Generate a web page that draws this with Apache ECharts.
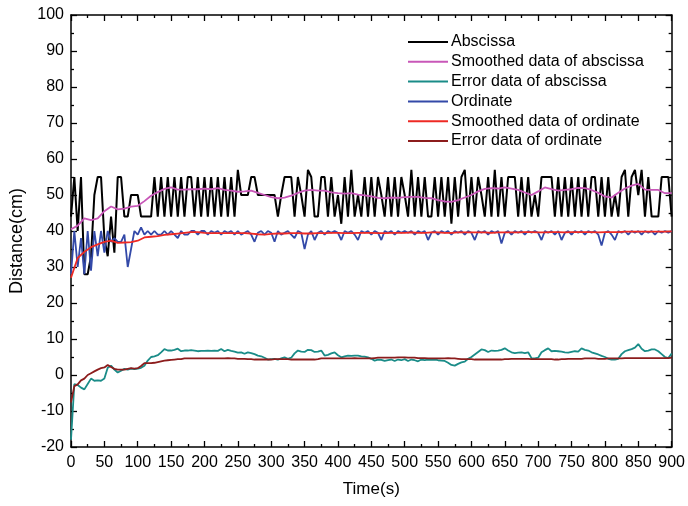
<!DOCTYPE html>
<html>
<head>
<meta charset="utf-8">
<script src="https://cdn.jsdelivr.net/npm/echarts@6/dist/echarts.min.js"></script>
<style>
  html, body { margin: 0; padding: 0; background: #fff; }
  #chart { width: 688px; height: 506px; }
</style>
</head>
<body>
<div id="chart"></div>
<script>
// time axes (s)
const time5 = Array.from({ length: 181 }, (_, i) => i * 5);
const time10 = Array.from({ length: 91 }, (_, i) => i * 10);

// Abscissa, raw (every 5 s)
const abscissa = [
  44,55,40,55,28,28,33,50,55,55,38,33,44,34,55,55,44,44,50,50,
  50,44,44,44,44,55,44,55,44,55,44,55,44,55,44,55,55,44,55,44,
  55,44,55,44,55,44,55,44,55,44,57,50,50,50,55,55,50,50,50,50,
  50,50,44,50,55,55,55,44,55,50,44,57,55,44,44,55,55,44,55,44,
  50,42,55,44,57,44,50,44,55,44,55,44,55,50,44,55,44,55,44,55,
  50,44,57,44,55,44,55,44,44,55,44,55,44,55,42,55,44,55,57,44,
  55,44,55,50,44,55,44,57,44,55,44,55,55,55,44,55,44,55,44,50,
  44,55,55,55,55,44,55,44,55,44,55,44,55,44,55,44,55,55,44,55,
  44,55,44,50,44,55,57,44,55,57,50,57,44,55,44,44,44,55,55,55,
  44
];

// Smoothed abscissa (every 10 s)
const smoothAbscissa = [
  40.5,41.5,43.5,43,43.5,45.5,46.8,46,46.2,46.8,
  47,48.3,49.8,50.8,51.7,52.1,51.5,51.5,51.6,51.6,
  51.8,51.6,51.9,51.4,51.2,50.9,51,51.2,50.6,50,
  49.4,49.1,49.3,49.8,50.6,51.2,51.4,51.2,51.2,50.7,
  50.5,50.4,50.5,50.1,49.9,49.6,49.2,49.1,49.3,49.2,
  49.4,49.5,49.5,49.2,49.1,48.6,48.2,48.1,48.6,49.3,
  50,51,51.7,51.9,51.8,52.1,51.8,51.4,50.7,50,
  51,52.1,51.6,51.2,51.4,51.6,52,51.9,51.4,50.6,
  49.6,49.3,50.6,51.8,52.6,53.1,51.5,51.4,51.4,50.5,
  50.5
];

// Error of abscissa (every 5 s)
const errAbscissa = [
  -18,-2.5,-2.8,-3.5,-4,-2.5,-1,-1.6,-1.5,-1.6,-1,2,2.6,1.5,0.7,1.2,1.7,1.5,1.8,1.6,
  1.8,2,2.6,4,5,5.2,5.5,6.3,7.2,6.8,6.8,7,7.3,6.6,6.8,6.8,6.9,6.8,6.6,6.7,
  6.7,6.8,6.7,6.8,6.7,7.2,6.6,7,6.7,6.5,6.2,6.3,5.9,6.3,6.1,5.8,5.4,5.2,4.8,4.3,
  4.4,4.5,4.3,4.6,4.9,4.5,4.8,6,6.8,6.5,6.4,7,6.9,6.4,6.5,6.8,5.4,5.6,6,6.3,
  5.5,4.9,5.2,5.4,5.3,5.4,5.4,5.2,5.1,4.9,4.5,4,4.3,4.2,3.9,4.1,4.3,3.9,4.3,4.1,
  4.4,3.9,4.3,4.1,3.8,4.3,4.1,4.3,4.2,4.3,4.1,4,3.9,3.4,2.8,2.6,3.1,3.5,3.7,4.5,
  5,5.7,6.4,7.1,6.9,6.4,6.8,6.7,6.8,7,7.4,6.8,6.3,6.1,6.2,6.3,6.1,6.3,4.7,4.6,
  4.8,6.3,6.9,7.4,6.6,6.7,6.6,6.5,6.3,6.2,6.4,6.6,6.5,7.4,7,6.8,6.3,6,5.7,5.3,
  5,4.5,4.3,4.3,4.5,5.8,6.6,6.9,7.2,7.6,8.6,7.3,6.6,6.8,7.1,7.1,6.6,5.8,5,4.7,
  6
];

// Ordinate, raw (every 5 s)
const ordinate = [
  28,40,30,38,28,40,29,40,33,40,34,40,37,38,37,37,39,30,35,40,
  39,41,39,40,39,40,39,39,40,39,40,39,38,40,39,39,40,40,39,40,
  40,39,40,39.5,40,39,40,39.5,40,39,40,39,39.5,40,39,37,39.5,40,39,40,
  39.5,37,40,39,39.5,40,39,38,40,39.5,35,39,40,37.5,39.5,40,39,40,39.5,40,
  39.5,37.5,40,39.5,40,39,37.5,40,39.5,40,39,40,39.5,37.5,40,39.5,40,39,40,39.5,
  40,39.5,40,39,40,39.5,40,37.5,39.5,40,39,40,39.5,40,39,40,39.5,40,39,40,
  39.5,37.5,40,39.5,40,39,40,39.5,40,36.5,39.5,40,39,40,39.5,40,39,40,39.5,40,
  39.5,37.5,40,39.5,40,39,40,37.5,39.5,40,39,40,39.5,40,39,40,39.5,40,39,36,
  39.5,40,39,37.5,40,39.5,40,39,40,39.5,40,39,40,39.5,40,39,40,39.5,40,39.5,
  40
];

// Smoothed ordinate (every 10 s)
const smoothOrdinate = [
  27,32.5,34.2,35.5,36.3,37,37.3,36.7,36.8,36.9,
  37.3,38.2,38.4,38.6,38.9,39.1,39.3,39.5,39.7,39.7,
  39.5,39.4,39.4,39.4,39.4,39.4,39.4,39.3,39.1,39,
  39.2,39.3,39.3,39.4,39.4,39.3,39.3,39.4,39.4,39.5,
  39.5,39.4,39.4,39.5,39.5,39.5,39.4,39.4,39.5,39.5,
  39.5,39.6,39.5,39.5,39.6,39.6,39.5,39.5,39.6,39.6,
  39.6,39.6,39.6,39.5,39.6,39.6,39.6,39.6,39.7,39.7,
  39.6,39.6,39.7,39.7,39.6,39.7,39.7,39.7,39.7,39.6,
  39.7,39.7,39.7,39.8,39.8,39.8,39.8,39.8,39.8,39.8,
  39.9
];

// Error of ordinate (every 5 s)
const errOrdinate = [
  -7.6,-3.1,-2.6,-1.5,-1,0,0.5,1,1.5,1.9,2.1,2.8,2.2,1.7,1.5,1.5,1.5,1.7,1.9,1.8,
  1.9,2.5,3.3,3.3,3.3,3.4,3.6,3.8,4,4.1,4.2,4.3,4.4,4.4,4.6,4.6,4.6,4.6,4.6,4.6,
  4.6,4.6,4.6,4.6,4.6,4.6,4.6,4.7,4.6,4.6,4.5,4.5,4.5,4.4,4.4,4.3,4.3,4.3,4.3,4.3,
  4.3,4.4,4.4,4.4,4.4,4.4,4.3,4.3,4.3,4.3,4.3,4.3,4.3,4.3,4.4,4.6,4.6,4.6,4.6,4.6,
  4.6,4.6,4.6,4.6,4.6,4.7,4.6,4.6,4.6,4.6,4.6,4.7,4.8,4.8,4.8,4.8,4.8,4.8,4.9,4.9,
  4.9,4.8,4.8,4.8,4.7,4.7,4.7,4.6,4.6,4.6,4.6,4.6,4.6,4.7,4.6,4.6,4.5,4.4,4.4,4.4,
  4.4,4.3,4.3,4.3,4.3,4.3,4.3,4.3,4.3,4.3,4.4,4.4,4.5,4.5,4.5,4.5,4.5,4.5,4.4,4.4,
  4.4,4.4,4.4,4.4,4.4,4.3,4.3,4.4,4.4,4.5,4.5,4.5,4.5,4.5,4.6,4.6,4.6,4.6,4.5,4.5,
  4.5,4.6,4.6,4.6,4.6,4.6,4.7,4.7,4.7,4.7,4.7,4.7,4.7,4.7,4.7,4.7,4.7,4.7,4.7,4.7,
  4.8
];

const seriesNames = [
  'Abscissa',
  'Smoothed data of abscissa',
  'Error data of abscissa',
  'Ordinate',
  'Smoothed data of ordinate',
  'Error data of ordinate'
];
const seriesColors = ['#000000', '#c857b8', '#1a8c88', '#3349a8', '#ee2a24', '#8c1c1c'];
const seriesData = [abscissa, smoothAbscissa, errAbscissa, ordinate, smoothOrdinate, errOrdinate];
const seriesTime = [time5, time10, time5, time5, time10, time5];

const font = 'Liberation Sans, Arial, sans-serif';

const chart = echarts.init(document.getElementById('chart'), null, { renderer: 'canvas' });

const axisCommon = {
  axisLine: { show: true, onZero: false, lineStyle: { color: '#000', width: 1.5 } },
  axisTick: { show: true, inside: true, length: 6, lineStyle: { color: '#000', width: 1.3 } },
  minorTick: { show: true, splitNumber: 2, length: 3, lineStyle: { color: '#000', width: 1.3 } },
  splitLine: { show: false },
  minorSplitLine: { show: false }
};

chart.setOption({
  animation: false,
  backgroundColor: '#fff',
  grid: { left: 71, right: 15, top: 15, bottom: 59, containLabel: false },
  legend: {
    orient: 'vertical',
    left: 403,
    top: 29,
    itemWidth: 40,
    itemHeight: 2,
    itemGap: 3.8,
    icon: 'rect',
    textStyle: { fontFamily: font, fontSize: 16, color: '#000', padding: [0, 0, 0, -2] },
    data: seriesNames
  },
  xAxis: [
    Object.assign({}, axisCommon, {
      type: 'value', min: 0, max: 900, interval: 50,
      name: 'Time(s)', nameLocation: 'middle', nameGap: 34,
      nameTextStyle: { fontFamily: font, fontSize: 17, color: '#000' },
      axisLabel: { fontFamily: font, fontSize: 16, color: '#000', margin: 8 }
    }),
    Object.assign({}, axisCommon, {
      type: 'value', min: 0, max: 900, interval: 50, position: 'top',
      axisLabel: { show: false }
    })
  ],
  yAxis: [
    Object.assign({}, axisCommon, {
      type: 'value', min: -20, max: 100, interval: 10,
      name: 'Distance(cm)', nameLocation: 'middle', nameGap: 44,
      nameTextStyle: { fontFamily: font, fontSize: 18, color: '#000', padding: [0, 20, 0, 0] },
      axisLabel: { fontFamily: font, fontSize: 16, color: '#000', margin: 7 }
    }),
    Object.assign({}, axisCommon, {
      type: 'value', min: -20, max: 100, interval: 10, position: 'right',
      axisLabel: { show: false }
    })
  ],
  series: seriesNames.map((name, k) => ({
    name: name,
    type: 'line',
    xAxisIndex: 0,
    yAxisIndex: 0,
    showSymbol: false,
    symbol: 'none',
    color: seriesColors[k],
    lineStyle: { color: seriesColors[k], width: k === 0 ? 2 : 1.8 },
    data: seriesData[k].map((v, i) => [seriesTime[k][i], v])
  }))
});
</script>
</body>
</html>
